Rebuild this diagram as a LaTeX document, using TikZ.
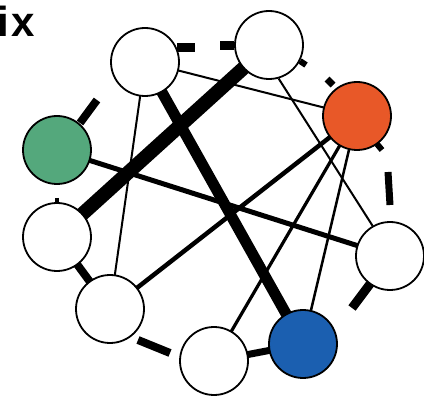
\documentclass[tikz,border=0pt]{standalone}
\usepackage{fontspec}
\setsansfont{Liberation Sans}
\usetikzlibrary{backgrounds}
\definecolor{orangeN}{RGB}{232,88,40}
\definecolor{greenN}{RGB}{84,168,124}
\definecolor{blueN}{RGB}{27,95,176}
\begin{document}
\begin{tikzpicture}[x=1pt,y=-1pt,
  nd/.style={circle,draw=black,line width=1.8pt,minimum size=68pt,inner sep=0pt,fill=white},
  edge/.style={draw=black,line cap=butt},
  stub/.style={draw=black,line cap=butt}]
\useasboundingbox (0,0) rectangle (424,404);
\node[font=\sffamily\bfseries\fontsize{42}{42}\selectfont, anchor=base west, inner sep=0pt] (title) at (-3,37) {i\kern2.5pt x};
\node[nd] (TL) at (145,62) {};
\node[nd] (TR) at (269,45) {};
\node[nd,fill=orangeN] (OR) at (357,116) {};
\node[nd,fill=greenN] (GR) at (57,150) {};
\node[nd] (LW) at (57,237) {};
\node[nd] (LL) at (110,309) {};
\node[nd] (BW) at (214,361) {};
\node[nd,fill=blueN] (BL) at (303,344) {};
\node[nd] (RW) at (390,256) {};
\begin{scope}[on background layer]
\draw[edge, line width=14pt] (TR.center) -- (LW.center);
\draw[edge, line width=11pt] (TL.center) -- (BL.center);
\draw[edge, line width=5pt] (GR.center) -- (RW.center);
\draw[edge, line width=4.5pt] (OR.center) -- (LL.center);
\draw[edge, line width=3.2pt] (OR.center) -- (BW.center);
\draw[edge, line width=2.5pt] (OR.center) -- (BL.center);
\draw[edge, line width=2pt] (TL.center) -- (OR.center);
\draw[edge, line width=2pt] (TR.-74) -- (RW.120);
\draw[edge, line width=2pt] (TL.center) -- (LL.center);
\draw[edge, line width=8pt] (LW.center) -- (LL.center);
\draw[edge, line width=7pt] (BW.center) -- (BL.center);
\end{scope}
% fragments of interrupted connectors
\coordinate (s1a) at (177,48); \coordinate (s1b) at (195,48);
\draw[stub, line width=9pt] (s1a) -- (s1b);
\coordinate (s2a) at (220,46); \coordinate (s2b) at (234,46);
\draw[stub, line width=9pt] (s2a) -- (s2b);
\coordinate (s3a) at (300,61); \coordinate (s3b) at (306,65);
\draw[stub, line width=6pt] (s3a) -- (s3b);
\coordinate (s4a) at (327,79); \coordinate (s4b) at (333,85);
\draw[stub, line width=7pt] (s4a) -- (s4b);
\coordinate (s5a) at (377,144); \coordinate (s5b) at (382,150);
\draw[stub, line width=6pt] (s5a) -- (s5b);
\coordinate (s6a) at (388,172); \coordinate (s6b) at (390,205);
\draw[stub, line width=7pt] (s6a) -- (s6b);
\coordinate (s7a) at (80,123); \coordinate (s7b) at (97,100);
\draw[stub, line width=8pt] (s7a) -- (s7b);
\coordinate (s8a) at (57,198); \coordinate (s8b) at (57,204);
\draw[stub, line width=4pt] (s8a) -- (s8b);
\coordinate (s9a) at (138,340); \coordinate (s9b) at (170,353);
\draw[stub, line width=8pt] (s9a) -- (s9b);
\coordinate (s10a) at (352,308); \coordinate (s10b) at (370,284);
\draw[stub, line width=9pt] (s10a) -- (s10b);
\end{tikzpicture}
\end{document}
